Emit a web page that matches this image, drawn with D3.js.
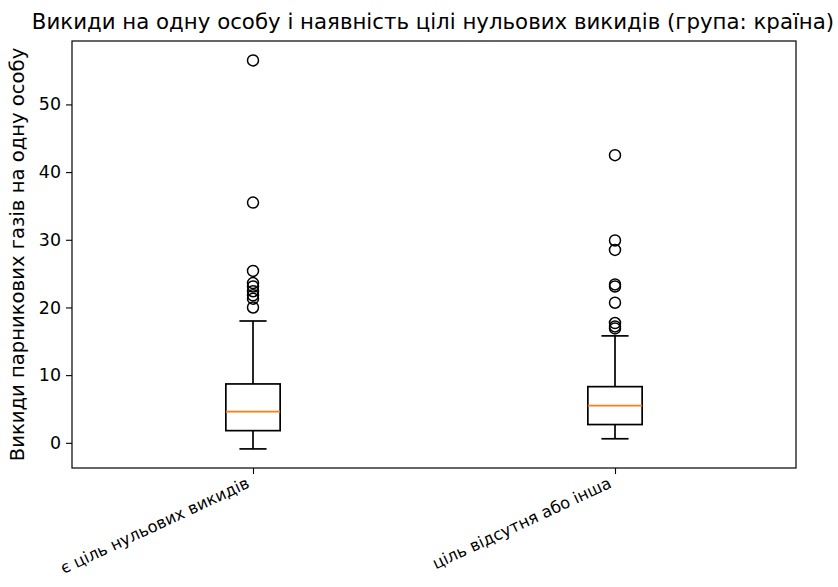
<!DOCTYPE html>
<html><head><meta charset="utf-8">
<script src="https://cdn.jsdelivr.net/npm/d3@7"></script>
<style>body{margin:0;background:#fff}svg{display:block}text{font-family:"DejaVu Sans",sans-serif;fill:#000}</style>
</head><body><svg id="c" width="838" height="587"></svg>
<script>
const categories = ["є ціль нульових викидів", "ціль відсутня або інша"];
const q1 = [1.8, 2.7];
const medians = [4.6, 5.5];
const q3 = [8.7, 8.3];
const whiskerLow = [-0.9, 0.6];
const whiskerHigh = [18.0, 15.8];
const outliers = [
  [56.5, 35.5, 25.4, 23.6, 23.1, 22.4, 21.8, 21.3, 20.0],
  [42.5, 29.9, 28.5, 23.4, 23.1, 20.7, 17.7, 17.2, 16.9]
];
const yTicks = [0, 10, 20, 30, 40, 50];
const title = "Викиди на одну особу і наявність цілі нульових викидів (група: країна)";
const yLabel = "Викиди парникових газів на одну особу";

const svg = d3.select("#c");
const L = 72, R = 796, T = 41, B = 468;
const x = d3.scaleLinear().domain([0.5, 2.5]).range([L, R]);
const y = d3.scaleLinear().domain([-3.72, 59.37]).range([B, T]);
const bw = 0.15;

const g = svg.append("g");
const yAxis = d3.axisLeft(y).tickValues(yTicks).tickSize(6).tickPadding(5);
const ya = svg.append("g").attr("transform", `translate(${L},0)`).call(yAxis);
ya.select(".domain").remove();
ya.selectAll("text").style("font-size", "17.4px").attr("fill", "#000");
ya.selectAll("line").attr("stroke", "#000").attr("stroke-width", 1.1);

const xAxis = d3.axisBottom(x).tickValues([1, 2]).tickFormat((d) => categories[d - 1]).tickSize(6);
const xa = svg.append("g").attr("transform", `translate(0,${B})`).call(xAxis);
xa.select(".domain").remove();
xa.selectAll("line").attr("stroke", "#000").attr("stroke-width", 1.1);
xa.selectAll("text").style("font-size", "16.3px").attr("fill", "#000")
  .attr("text-anchor", "end").attr("dy", null).attr("y", 0)
  .attr("transform", "translate(-3,19) rotate(-25)");

categories.forEach((c, i) => {
  const p = i + 1;
  const xc = x(p);
  const x0 = x(p - bw / 2), x1 = x(p + bw / 2);
  const c0 = x(p - bw / 4), c1 = x(p + bw / 4);
  const line = (a, b, cc, d, col) => g.append("line").attr("x1", a).attr("y1", b).attr("x2", cc).attr("y2", d)
    .attr("stroke", col || "#000").attr("stroke-width", 1.7);
  line(xc, y(q1[i]), xc, y(whiskerLow[i]));
  line(xc, y(q3[i]), xc, y(whiskerHigh[i]));
  line(c0, y(whiskerLow[i]), c1, y(whiskerLow[i]));
  line(c0, y(whiskerHigh[i]), c1, y(whiskerHigh[i]));
  g.append("rect").attr("x", x0).attr("y", y(q3[i])).attr("width", x1 - x0).attr("height", y(q1[i]) - y(q3[i]))
    .attr("fill", "none").attr("stroke", "#000").attr("stroke-width", 1.7);
  line(x0, y(medians[i]), x1, y(medians[i]), "#ff7f0e");
  g.selectAll(null).data(outliers[i]).enter().append("circle")
    .attr("cx", xc).attr("cy", (d) => y(d)).attr("r", 5.5)
    .attr("fill", "none").attr("stroke", "#000").attr("stroke-width", 1.5);
});

svg.append("rect").attr("x", L).attr("y", T).attr("width", R - L).attr("height", B - T)
  .attr("fill", "none").attr("stroke", "#000").attr("stroke-width", 1.2);

svg.append("text").attr("x", (L + R) / 2 - 1).attr("y", 29).attr("text-anchor", "middle")
  .style("font-size", "21.3px").text(title);
svg.append("text").attr("transform", `translate(24,${(T + B) / 2}) rotate(-90)`).attr("text-anchor", "middle")
  .style("font-size", "19.6px").text(yLabel);
</script></body></html>
